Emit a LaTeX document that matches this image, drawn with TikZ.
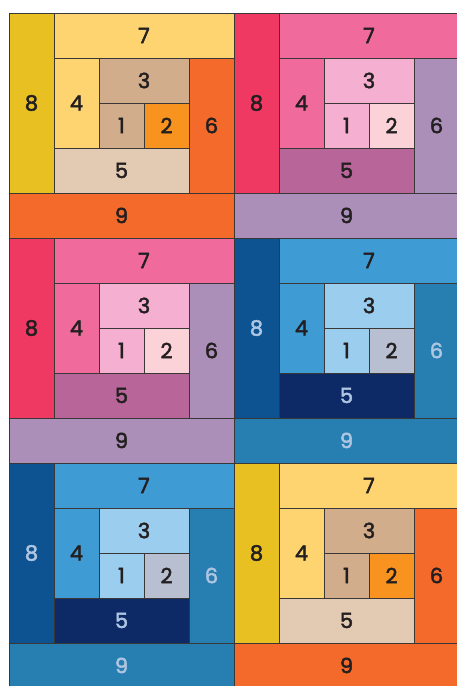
\documentclass[tikz,border=0pt]{standalone}
\usepackage{fontspec}
\setmainfont{Poppins}
\newfontfamily\patchfont{Poppins}[FakeBold=2.2]
\usetikzlibrary{positioning}

\definecolor{linecol}{HTML}{3A3836}
\definecolor{darktext}{HTML}{231F20}
\definecolor{palelabel}{HTML}{AEC6E2}

\definecolor{warm-1}{HTML}{D2AD8C}
\definecolor{warm-2}{HTML}{F7931E}
\definecolor{warm-3}{HTML}{D2AD8C}
\definecolor{warm-4}{HTML}{FED470}
\definecolor{warm-5}{HTML}{E3CBB3}
\definecolor{warm-6}{HTML}{F36A2A}
\definecolor{warm-7}{HTML}{FED470}
\definecolor{warm-8}{HTML}{E8C021}
\definecolor{warm-9}{HTML}{F36A2A}

\definecolor{pink-1}{HTML}{F5AFD0}
\definecolor{pink-2}{HTML}{FAD2D8}
\definecolor{pink-3}{HTML}{F5AFD0}
\definecolor{pink-4}{HTML}{F06B9C}
\definecolor{pink-5}{HTML}{B8659A}
\definecolor{pink-6}{HTML}{AB8FB9}
\definecolor{pink-7}{HTML}{F06B9C}
\definecolor{pink-8}{HTML}{EF3963}
\definecolor{pink-9}{HTML}{AB8FB9}

\definecolor{blue-1}{HTML}{9BCDEE}
\definecolor{blue-2}{HTML}{B7BFD0}
\definecolor{blue-3}{HTML}{9BCDEE}
\definecolor{blue-4}{HTML}{3F9BD4}
\definecolor{blue-5}{HTML}{0D2A67}
\definecolor{blue-6}{HTML}{277EB0}
\definecolor{blue-7}{HTML}{3F9BD4}
\definecolor{blue-8}{HTML}{0D5391}
\definecolor{blue-9}{HTML}{277EB0}

\tikzset{
  patch/.style={draw=linecol,line width=0.9pt,anchor=north west,inner sep=0pt,
    outer sep=0pt,text=darktext,font=\patchfont\fontsize{21}{21}\selectfont},
  pale/.style={text=palelabel}
}

% #1 name, #2 x, #3 y (top left), #4 palette, #5 style of labels 5,6,8,9
\newcommand\logblock[5]{%
  \begin{scope}[shift={(#2,#3)}]
  \node[patch,#5,fill=#4-8,minimum width=45pt,minimum height=180pt] (#1-8) at (0,0) {8};
  \node[patch,fill=#4-7,minimum width=180pt,minimum height=45pt] (#1-7) at (45,0) {7};
  \node[patch,fill=#4-4,minimum width=45pt,minimum height=90pt] (#1-4) at (45,-45) {4};
  \node[patch,fill=#4-3,minimum width=90pt,minimum height=45pt] (#1-3) at (90,-45) {3};
  \node[patch,fill=#4-1,minimum width=45pt,minimum height=45pt] (#1-1) at (90,-90) {1};
  \node[patch,fill=#4-2,minimum width=45pt,minimum height=45pt] (#1-2) at (135,-90) {2};
  \node[patch,#5,fill=#4-5,minimum width=135pt,minimum height=45pt] (#1-5) at (45,-135) {5};
  \node[patch,#5,fill=#4-6,minimum width=45pt,minimum height=135pt] (#1-6) at (180,-45) {6};
  \node[patch,#5,fill=#4-9,minimum width=225pt,minimum height=45pt] (#1-9) at (0,-180) {9};
  \end{scope}}

\begin{document}
\begin{tikzpicture}[x=1pt,y=1pt]
\clip (0,0) rectangle (457,686);
\fill[white] (0,0) rectangle (457,686);
\logblock{tl}{9}{673}{warm}{}
\logblock{tr}{234}{673}{pink}{}
\logblock{ml}{9}{448}{pink}{}
\logblock{mr}{234}{448}{blue}{pale}
\logblock{bl}{9}{223}{blue}{pale}
\logblock{br}{234}{223}{warm}{}
\end{tikzpicture}
\end{document}
